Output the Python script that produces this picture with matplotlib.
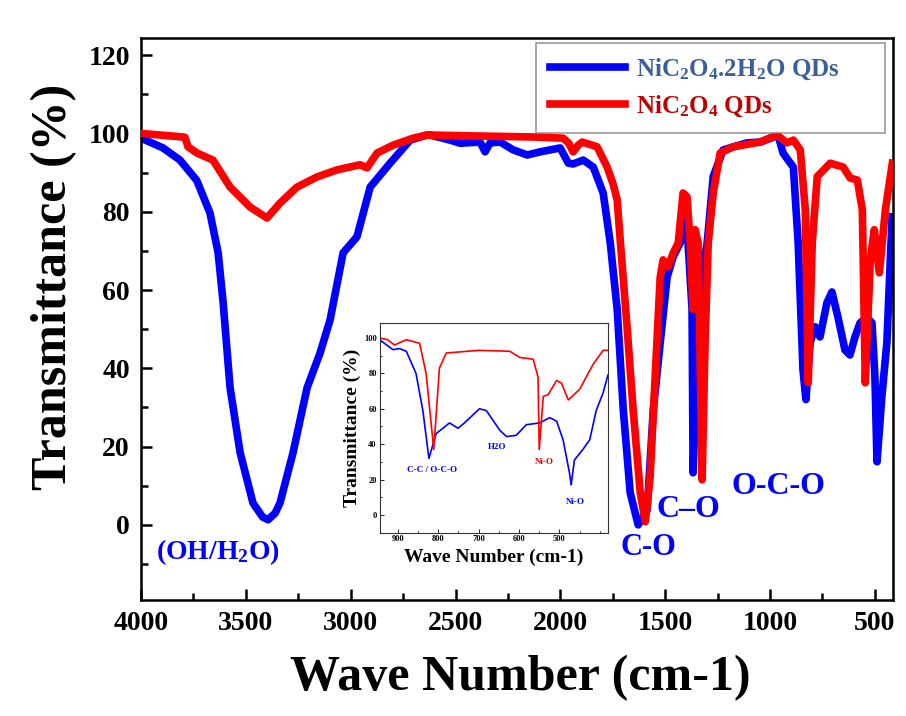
import matplotlib
matplotlib.use("Agg")
import matplotlib.pyplot as plt
from matplotlib.ticker import FixedLocator, MultipleLocator

plt.rcParams["font.family"] = ["Liberation Serif", "DejaVu Serif"]
plt.rcParams["font.weight"] = "bold"
plt.rcParams["mathtext.fontset"] = "custom"
plt.rcParams["mathtext.rm"] = "Liberation Serif:bold"
plt.rcParams["mathtext.default"] = "rm"

BLUE = "#0000ff"
RED = "#ff0000"

# main spectrum, NiC2O4.2H2O (blue)
hyd_wn = [4000, 3895, 3814, 3734, 3671, 3632, 3608, 3575, 3527, 3466, 3420, 3394, 3360,
          3337, 3275, 3208, 3146, 3098, 3036, 2970, 2907, 2812, 2716, 2636, 2621, 2526,
          2478, 2383, 2359, 2335, 2287, 2225, 2158, 2096, 2001, 1962, 1939, 1891, 1843,
          1796, 1762, 1729, 1700, 1667, 1629, 1586, 1557, 1524, 1491, 1462, 1429, 1405,
          1391, 1372, 1367, 1350, 1335, 1300, 1271, 1224, 1110, 1047, 962, 938, 914, 889,
          866, 843, 829, 809, 785, 762, 729, 705, 676, 643, 619, 595, 571, 538, 514, 500,
          490, 467, 443, 418]
hyd_t = [98.8, 96.3, 93.2, 88.0, 79.7, 69.5, 56.7, 35.0, 18.4, 5.6, 2.0, 1.3, 3.0,
         5.6, 18.4, 35.0, 43.9, 52.4, 69.5, 73.6, 86.3, 92.4, 98.3, 99.6, 99.6, 98.3,
         97.5, 97.8, 95.3, 97.6, 97.8, 95.8, 94.5, 95.3, 96.3, 92.4, 92.2, 93.2, 91.4,
         84.8, 72.0, 55.0, 29.4, 8.2, 0.0, 3.8, 29.4, 46.5, 63.3, 68.5, 72.0, 78.7,
         72.0, 55.0, 13.3, 40.0, 60.0, 72.0, 89.0, 95.8, 97.6, 97.8, 99.5, 95.0, 93.2, 91.4,
         72.0, 39.6, 32.0, 46.5, 50.6, 48.0, 56.7, 59.5, 53.0, 44.7, 43.4, 48.0, 51.6, 53.0, 51.6, 37.8,
         16.1, 32.7, 46.5, 78.7]

# main spectrum, NiC2O4 (red)
anh_wn = [4000, 3800, 3790, 3776, 3733, 3657, 3575, 3480, 3399, 3337, 3256, 3160, 3065,
          2955, 2922, 2874, 2798, 2702, 2636, 2445, 2130, 1987, 1960, 1939, 1915, 1896,
          1825, 1777, 1748, 1729, 1715, 1682, 1653, 1619, 1595, 1572, 1548, 1524, 1510,
          1486, 1462, 1438, 1415, 1396, 1381, 1367, 1357, 1343, 1324, 1310, 1295, 1271,
          1238, 1176, 1047, 967, 919, 889, 856, 832, 818, 799, 775, 713, 651, 618, 584,
          560, 546, 522, 503, 479, 450, 417]
anh_t = [100.0, 99.1, 99.0, 96.6, 95.0, 93.2, 86.3, 81.2, 78.4, 82.2, 86.3, 88.9, 90.7,
         92.0, 91.2, 95.0, 97.0, 98.8, 99.6, 99.4, 99.1, 98.8, 97.5, 95.3, 97.0, 97.8,
         96.6, 91.4, 87.0, 83.0, 73.0, 50.6, 29.4, 8.2, 0.8, 12.3, 37.8, 63.3, 67.7,
         65.9, 69.5, 72.0, 84.8, 83.8, 72.0, 55.0, 75.4, 72.0, 11.5, 46.5, 72.0, 84.8,
         95.0, 96.6, 97.8, 99.6, 97.6, 98.3, 95.8, 80.5, 36.3, 72.0, 89.0, 92.4, 91.4, 88.6, 88.1,
         80.5, 36.3, 67.7, 75.4, 64.4, 80.5, 92.4]

# inset, 950-380 cm-1
ins_hyd_wn = [945, 912, 896, 879, 855, 838, 823, 805, 772, 751, 735, 698, 681, 648, 631,
              607, 582, 549, 524, 507, 491, 475, 471, 463, 442, 425, 409, 392, 380]
ins_hyd_t = [99, 93.4, 94, 92.5, 80, 59, 32, 46, 52, 49, 52, 60, 59, 48, 44.3,
             45, 51, 52, 55, 53, 42.5, 23.6, 17, 31, 37, 42.5, 59, 69, 79]
ins_anh_wn = [945, 925, 908, 879, 846, 830, 811, 797, 780, 700, 623, 598, 565, 553, 550,
              540, 528, 507, 495, 478, 450, 417, 392, 380]
ins_anh_t = [100, 99, 96, 99, 97, 80, 37, 83, 91.5, 93, 92.5, 89, 88, 78, 37,
             67, 68, 76, 74.5, 65, 71, 85, 93, 93]
ins_xticks = [900, 800, 700, 600, 500]

fig = plt.figure(figsize=(9.06, 7.16), dpi=100)
ax = fig.add_axes([0.1556, 0.162, 0.830, 0.785])

ax.plot(hyd_wn, hyd_t, color=BLUE, lw=5.5, solid_joinstyle="round",
        label="NiC$_2$O$_4$.2H$_2$O QDs", zorder=2)
ax.plot(anh_wn, anh_t, color=RED, lw=5.5, solid_joinstyle="round",
        label="NiC$_2$O$_4$ QDs", zorder=3)

ax.set_xlim(4000, 414)
ax.set_ylim(-19.2, 124.4)
ax.xaxis.set_major_locator(MultipleLocator(500))
ax.xaxis.set_minor_locator(MultipleLocator(250))
ax.yaxis.set_major_locator(MultipleLocator(20))
ax.yaxis.set_minor_locator(MultipleLocator(10))
ax.tick_params(which="both", direction="in", width=1.8, top=False, right=False,
               labelsize=20, pad=8)
ax.tick_params(which="major", length=8)
ax.tick_params(which="minor", length=5)
for s in ax.spines.values():
    s.set_linewidth(1.8)

ax.set_xlabel("Wave Number (cm-1)", fontsize=36, fontweight="bold")
ax.set_ylabel("Transmittance (%)", fontsize=36, fontweight="bold")
ax.xaxis.set_label_coords(0.504, -0.098)
ax.yaxis.set_label_coords(-0.085, 0.557)

leg = ax.legend(loc="upper left", bbox_to_anchor=(0.525, 0.0, 0.465, 0.991),
                mode="expand", fontsize=18, frameon=True, fancybox=False,
                edgecolor="#808080", handlelength=3.0, labelspacing=0.45,
                borderpad=0.55, handletextpad=0.45, borderaxespad=0)
leg.get_frame().set_linewidth(1.2)
leg.get_texts()[0].set_color("#3d5f99")
leg.get_texts()[1].set_color("#c00000")

ann = dict(color=BLUE, fontweight="bold", ha="center", va="center")
ax.text(3633, -6.9, "(OH/H$_2$O)", fontsize=20, **ann)
ax.text(1582, -5.9, "C-O", fontsize=22, **ann)
ax.text(1391, 3.8, "C\u2013O", fontsize=23, **ann)
ax.text(962, 9.7, "O-C-O", fontsize=23, **ann)

# inset
ins = fig.add_axes([0.419, 0.256, 0.252, 0.293])
ins.set_facecolor("white")
ins.plot(ins_hyd_wn, ins_hyd_t, color=BLUE, lw=1.2)
ins.plot(ins_anh_wn, ins_anh_t, color=RED, lw=1.2)
ins.set_xlim(945, 380)
ins.set_ylim(-10, 108.5)
ins.xaxis.set_major_locator(FixedLocator(ins_xticks))
ins.xaxis.set_minor_locator(MultipleLocator(50))
ins.yaxis.set_major_locator(MultipleLocator(20))
ins.yaxis.set_minor_locator(MultipleLocator(10))
ins.tick_params(which="both", direction="in", width=0.6, labelsize=6, pad=2,
                top=False, right=False)
ins.tick_params(which="major", length=3)
ins.tick_params(which="minor", length=1.5)
for s in ins.spines.values():
    s.set_linewidth(0.8)
    s.set_edgecolor("#333333")
ins.set_xlabel("Wave Number (cm-1)", fontsize=14, fontweight="bold")
ins.set_ylabel("Transmittance (%)", fontsize=14, fontweight="bold")
ins.xaxis.set_label_coords(0.5, -0.075)
ins.yaxis.set_label_coords(-0.08, 0.5)

ins.text(816, 25.5, "C-C / O-C-O", fontsize=6.5, color=BLUE, fontweight="bold",
         ha="center", va="center")
ins.text(654, 38.5, "H2O", fontsize=6.5, color=BLUE, fontweight="bold",
         ha="center", va="center")
ins.text(538, 30, "Ni-O", fontsize=6.5, color="#e00000", fontweight="bold",
         ha="center", va="center")
ins.text(461, 7.4, "Ni-O", fontsize=6.5, color=BLUE, fontweight="bold",
         ha="center", va="center")

fig.savefig("out.png", dpi=100)
